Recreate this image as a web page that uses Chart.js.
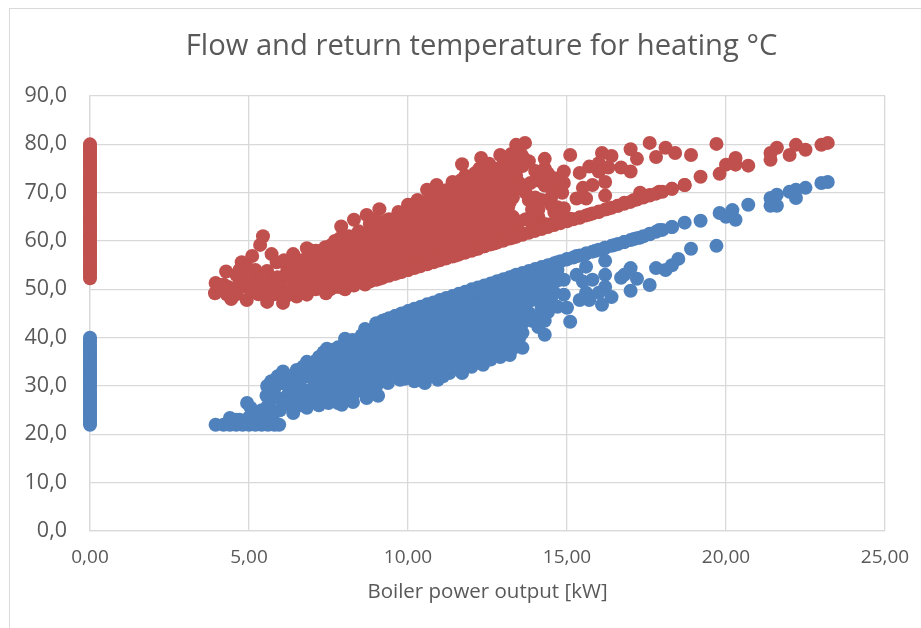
<!DOCTYPE html>
<html>
<head>
<meta charset="utf-8">
<title>Flow and return temperature for heating</title>
<script src="https://cdn.jsdelivr.net/npm/chart.js@4"></script>
<style>
  html, body { margin: 0; padding: 0; background: #fff; overflow: hidden; }
  #frame { position: absolute; left: 9px; top: 8px; width: 1000px; height: 1000px; border: 1.5px solid #d9d9d9; box-sizing: border-box; }
  canvas { position: absolute; left: 0; top: 0; }
</style>
</head>
<body>
<div id="frame"></div>
<canvas id="chart" width="921" height="628"></canvas>
<script>
// Values
const chartTitle = 'Flow and return temperature for heating °C';
const xAxisTitle = 'Boiler power output [kW]';
const xTickLabels = ['0,00', '5,00', '10,00', '15,00', '20,00', '25,00'];
const yTickLabels = ['0,0', '10,0', '20,0', '30,0', '40,0', '50,0', '60,0', '70,0', '80,0', '90,0'];

// boiler off, power 0
const flowIdleY = [52.3, 53, 53.5, 54, 54.5, 55, 55.5, 56, 56.5, 57, 57.5, 58, 58.5, 59, 59.5, 60, 60.5, 61, 61.5, 62, 62.5, 63, 63.5, 64, 64.5, 65, 65.5, 66, 66.5, 67, 67.5, 68, 68.5, 69, 69.5, 70, 70.5, 71, 71.5, 72, 72.5, 73, 73.5, 74, 74.5, 75, 75.5, 76, 76.5, 77, 77.5, 78, 78.5, 79, 79.5, 80];
const returnIdleY = [22, 22.5, 23, 23.5, 24, 24.5, 25, 25.5, 26, 26.5, 27, 27.5, 28, 28.5, 29, 29.5, 30, 30.5, 31, 31.5, 32, 32.5, 33, 33.5, 34, 34.5, 35, 35.5, 36, 36.5, 37, 37.5, 38, 38.5, 39, 39.5, 40];

// flow temperature, one line per rough column of points
const flowX = [
  3.93, 3.95, 4.28, 4.44, 4.6, 4.7, 4.77, 4.93, 4.9, 5.1, 5.1, 5.1, 5.35, 5.44, 5.3, 5.57, 5.57, 5.57, 5.7, 5.71, 5.87, 6.07, 6.07, 6.0, 6.2, 6.25, 6.39, 6.4, 6.4, 6.5, 6.55, 6.82, 6.82, 6.8, 6.8, 6.85,
  4.2, 4.5, 4.3, 4.8, 5.2, 5.8, 5.9,
  4.1, 4.35, 4.6, 4.6, 4.9, 5.0, 5.3, 5.4, 5.2, 5.7, 5.9, 6.15, 6.3, 6.3, 6.6, 6.65, 6.6, 6.65, 6.45, 6.15, 6.1, 4.95, 4.7, 5.0,
  7.1, 7.1, 7.1, 7.1, 7.1, 7.42, 7.4, 7.4, 7.4, 7.4, 7.4,
  7.7, 7.7, 7.7, 7.7, 7.7, 7.7, 8.02, 8.0, 8.0, 8.0, 8.0, 8.0, 7.9,
  8.3, 8.3, 8.3, 8.3, 8.3, 8.3, 8.3,
  8.65, 8.6, 8.6, 8.6, 8.6, 8.6, 8.7,
  9.1, 9.1, 9.1, 9.1, 9.1, 9.1, 9.1,
  9.4, 9.4, 9.4, 9.4, 9.4, 9.4, 9.4,
  9.7, 9.7, 9.7, 9.7, 9.7, 9.7, 9.7,
  10, 10, 10, 10, 10, 10, 10, 10,
  10.3, 10.3, 10.3, 10.3, 10.3, 10.3, 10.3, 10.3,
  10.6, 10.6, 10.6, 10.6, 10.6, 10.6, 10.6, 10.6,
  10.9, 10.9, 10.9, 10.9, 10.9, 10.9, 10.9, 10.9, 10.9,
  11.2, 11.2, 11.2, 11.2, 11.2, 11.2, 11.2, 11.2,
  11.5, 11.5, 11.5, 11.5, 11.5, 11.5, 11.5, 11.5, 11.4,
  11.8, 11.8, 11.8, 11.8, 11.8, 11.8, 11.8, 11.8, 11.8, 11.7,
  12.1, 12.1, 12.1, 12.1, 12.1, 12.1, 12.1, 12.1, 12.1,
  12.4, 12.4, 12.4, 12.4, 12.4, 12.4, 12.4, 12.4, 12.4, 12.3,
  12.7, 12.7, 12.7, 12.7, 12.7, 12.7, 12.7, 12.7, 12.7, 12.9,
  13, 13, 13, 13, 13, 13, 13, 13, 13,
  13.3, 13.3, 13.3, 13.3, 13.3, 13.3, 13.3, 13.3,
  13.4, 13.68, 13.5, 13.55, 13.6, 13.6, 13.4, 13.5, 13.8, 14, 14.4, 13.7, 14, 14.5, 14.9, 14.5, 14.7, 14.1, 14.3, 13.9, 13.5,
  13.25, 13.45, 13.4, 13.2, 13.7, 13.9, 14.1, 14.2, 14, 13.8, 14.3, 14.1, 13.85, 14.6, 14.9,
  14.8, 14.5, 14.85, 14.6, 14.3,
  14.3, 15.1, 14.9, 15.4, 15.7, 16.1, 16.4, 16, 16.3, 16, 16.2, 15.8, 15.5, 15.3, 15.6, 16.2, 16.7, 17, 17.2, 17, 17.6, 17.8, 18.1, 18.4, 18.9, 19.7, 19.2, 19.8, 20, 20.3, 20.3, 20.7,
  21.4, 21.4, 21.6, 22, 22.2, 22.5, 23, 23.2,
  13.6, 13.9, 14.2, 14.5, 14.7, 14.8, 15.1, 15.4, 15.7, 16, 16.3, 16.6, 16.8, 17.1, 17.3, 17.6, 17.9, 18.3, 18.7
];
const flowY = [
  49.2, 51.3, 53.7, 48, 50, 52, 55.6, 47.8, 50.5, 56.9, 52.5, 49.5, 59.2, 61, 49, 53.8, 50.5, 47.4, 51.5, 57.3, 55.6, 47.2, 50, 52, 54.5, 49, 57.3, 51.5, 53.5, 48.5, 55.5, 58.5, 48.9, 51, 53, 55.5,
  51, 50, 49, 53, 54, 49, 52.5,
  50, 50.5, 49, 53, 52.5, 51, 51, 52.5, 50, 49, 50.5, 48.5, 50, 52.5, 50, 52, 54, 56, 55, 53, 56, 54.5, 54, 53.5,
  50, 52, 54, 56, 58, 49.2, 51, 53, 55, 57, 58.7,
  50.5, 52.5, 54.5, 56.5, 58.5, 60, 50, 51.5, 53.5, 55.5, 57.5, 59.5, 63,
  50.8, 52.5, 54.5, 56.5, 58.5, 60.5, 64.4,
  51, 53, 55, 57, 59, 61, 65.4,
  52.2, 54, 56, 58, 60, 62, 66.6,
  53, 55, 57, 59, 61, 63, 64.5,
  53.5, 55.5, 57.5, 59.5, 61.5, 63.5, 66,
  54, 56, 58, 60, 62, 64, 66, 67.5,
  54.7, 56.5, 58.5, 60.5, 62.5, 64.5, 66.5, 68.5,
  55.3, 57, 59, 61, 63, 65, 67, 70.6,
  55.9, 58, 60, 62, 64, 66, 68, 70, 71.6,
  56.5, 58.5, 60.5, 62.5, 64.5, 66.5, 68.5, 70.5,
  57, 59, 61, 63, 65, 67, 69, 71, 72.2,
  57.7, 59.5, 61.5, 63.5, 65.5, 67.5, 69.5, 71.5, 73.5, 75.9,
  58.3, 60, 62, 64, 66, 68, 70, 72, 74,
  58.9, 60.5, 62.5, 64.5, 66.5, 68.5, 70.5, 72.5, 74.5, 77.2,
  59.5, 61, 63, 65, 67, 69, 71, 73, 75, 77.8,
  60.1, 62, 64, 66, 68, 70, 72, 74, 76,
  60.7, 62.5, 65, 69, 71, 73, 75, 77.5,
  79.9, 80.3, 79, 78, 77.5, 75.5, 73.5, 72, 76.5, 74.5, 74, 70, 67.5, 71, 72, 69, 67, 65, 63.5, 66.5, 64,
  78, 76.5, 71, 68, 64.5, 64, 66.5, 68.5, 69, 68.5, 71.5, 72.5, 72, 66, 66.8,
  71, 67.5, 70, 73, 75,
  77, 77.8, 74.4, 74.1, 75.4, 78.2, 77.6, 76.1, 75.2, 74.4, 72.2, 71.6, 71, 68.8, 68.8, 69.4, 75.2, 74.4, 77, 79, 80.3, 77.4, 79.3, 78.2, 77.8, 80.1, 73.3, 73.9, 75.8, 77.2, 75.8, 75.6,
  78.2, 76.8, 79.3, 77.8, 79.9, 78.9, 79.9, 80.3,
  61.5, 62.3, 63, 63.5, 65.4, 64, 64.6, 64.8, 65.5, 66, 66.7, 67.3, 67.9, 68.5, 70, 69.5, 70.2, 70.8, 71.6
];

// flow points between the columns above
const flowFillX = [
  6.95, 6.95, 6.95, 6.95, 6.95,
  7.25, 7.25, 7.25, 7.25, 7.25,
  7.55, 7.55, 7.55, 7.55, 7.55, 7.55,
  7.85, 7.85, 7.85, 7.85, 7.85, 7.85,
  8.15, 8.15, 8.15, 8.15, 8.15, 8.15,
  8.45, 8.45, 8.45, 8.45, 8.45, 8.45,
  8.8, 8.8, 8.8, 8.8, 8.8, 8.8, 8.8,
  8.95, 8.95, 8.95, 8.95, 8.95, 8.95, 8.95,
  9.25, 9.25, 9.25, 9.25, 9.25, 9.25,
  9.55, 9.55, 9.55, 9.55, 9.55, 9.55,
  9.85, 9.85, 9.85, 9.85, 9.85, 9.85,
  10.15, 10.15, 10.15, 10.15, 10.15, 10.15, 10.15,
  10.45, 10.45, 10.45, 10.45, 10.45, 10.45, 10.45,
  10.75, 10.75, 10.75, 10.75, 10.75, 10.75, 10.75,
  11.05, 11.05, 11.05, 11.05, 11.05, 11.05, 11.05,
  11.35, 11.35, 11.35, 11.35, 11.35, 11.35, 11.35,
  11.65, 11.65, 11.65, 11.65, 11.65, 11.65, 11.65, 11.65,
  11.95, 11.95, 11.95, 11.95, 11.95, 11.95, 11.95, 11.95,
  12.25, 12.25, 12.25, 12.25, 12.25, 12.25, 12.25, 12.25, 12.25,
  12.55, 12.55, 12.55, 12.55, 12.55, 12.55, 12.55, 12.55, 12.55,
  12.85, 12.85, 12.85, 12.85, 12.85, 12.85, 12.85, 12.85,
  13.15, 13.15, 13.15, 13.15, 13.15, 13.15, 13.15
];
const flowFillY = [
  50, 52, 54, 56, 58,
  50.5, 52.5, 54.5, 56.5, 58,
  50, 52, 54, 56, 58, 59,
  50.5, 52.5, 54.5, 56.5, 58.5, 60.5,
  51, 53, 55, 57, 59, 61,
  52, 54, 56, 58, 60, 62,
  52, 54, 56, 58, 60, 62, 63.5,
  53, 55, 57, 59, 61, 63, 64.5,
  54, 56, 58, 60, 62, 64,
  54.5, 56.5, 58.5, 60.5, 62.5, 64.5,
  55, 57, 59, 61, 63, 65,
  55.5, 57.5, 59.5, 61.5, 63.5, 65.5, 67.5,
  56, 58, 60, 62, 64, 66, 68,
  57, 59, 61, 63, 65, 67, 69,
  57.5, 59.5, 61.5, 63.5, 65.5, 67.5, 69.5,
  58, 60, 62, 64, 66, 68, 70,
  58.5, 60.5, 62.5, 64.5, 66.5, 68.5, 70.5, 72.5,
  59, 61, 63, 65, 67, 69, 71, 73,
  59.5, 61.5, 63.5, 65.5, 67.5, 69.5, 71.5, 73.5, 75,
  60, 62, 64, 66, 68, 70, 72, 74, 76,
  61, 63, 65, 67, 69, 71, 73, 75,
  61.5, 63.5, 67, 70, 72, 74, 76
];

// lower edge of the flow cloud
const flowEdgeX = [8.8, 9, 9.2, 9.4, 9.6, 9.8, 10, 10.2, 10.4, 10.6, 10.8, 11, 11.2, 11.4, 11.6, 11.8, 12, 12.2, 12.4, 12.6, 12.8, 13, 13.2, 13.4, 13.6, 13.8, 14, 14.2, 14.4, 14.6, 14.8, 15, 15.2, 15.4, 15.6, 15.8, 16, 16.2, 16.4, 16.6, 16.8, 17, 17.2, 17.4, 17.6, 17.8, 18, 18.3, 18.7];
const flowEdgeY = [51.6, 52, 52.4, 52.8, 53.2, 53.6, 54, 54.4, 54.8, 55.2, 55.6, 56, 56.4, 56.8, 57.2, 57.6, 58, 58.4, 58.9, 59.3, 59.7, 60.1, 60.5, 60.9, 61.3, 61.7, 62.1, 62.5, 62.9, 63.3, 63.7, 64.1, 64.5, 64.9, 65.3, 65.7, 66.1, 66.5, 66.9, 67.3, 67.7, 68.1, 68.6, 69, 69.4, 69.8, 70.2, 70.8, 71.6];

// return temperature
const returnX = [
  3.95, 4.2, 4.4, 4.6, 4.8, 5, 5.2, 5.4, 5.6, 5.8, 5.95, 4.4, 4.7, 4.94, 5.05, 5.1, 5.3, 5.5,
  5.57, 5.55, 5.6, 5.8, 5.9, 5.97, 6.07, 6.1, 6.2, 6.39, 6.5, 6.45, 6.5, 6.4, 6.6, 6.82, 6.8, 6.85, 6.82,
  5.7, 5.9, 6.2, 6.3, 6, 6.7, 6.6, 6.7, 6.6, 6.3, 6.1, 5.8, 5.6, 5.4, 5.3, 5, 4.6, 5.75,
  6.9, 7.2, 7.2, 7.2, 7.2, 7.2, 7.2, 7.45, 7.5, 7.5, 7.5, 7.5, 7.5,
  7.8, 7.8, 7.8, 7.8, 7.8, 7.8, 7.8, 7.92, 8.02, 8.1, 8.1, 8.1, 8.1, 8.1,
  8.27, 8.4, 8.4, 8.4, 8.4, 8.4, 8.4,
  8.65, 8.7, 8.7, 8.7, 8.7, 8.7, 8.7, 8.7,
  9.06, 9, 9, 9, 9, 9, 9, 9,
  9.37, 9.3, 9.3, 9.3, 9.3, 9.3, 9.3, 9.3,
  9.75, 9.6, 9.6, 9.6, 9.6, 9.6, 9.6, 9.6,
  9.9, 9.9, 9.9, 9.9, 9.9, 9.9, 9.9, 9.9,
  10.2, 10.2, 10.2, 10.2, 10.2, 10.2, 10.2, 10.2,
  10.53, 10.5, 10.5, 10.5, 10.5, 10.5, 10.5, 10.5, 10.5,
  10.94, 10.8, 10.8, 10.8, 10.8, 10.8, 10.8, 10.8, 10.8,
  11.1, 11.1, 11.1, 11.1, 11.1, 11.1, 11.1, 11.1, 11.1,
  11.3, 11.4, 11.4, 11.4, 11.4, 11.4, 11.4, 11.4, 11.4,
  11.7, 11.7, 11.7, 11.7, 11.7, 11.7, 11.7, 11.7, 11.7,
  12, 12, 12, 12, 12, 12, 12, 12, 12,
  12.36, 12.3, 12.3, 12.3, 12.3, 12.3, 12.3, 12.3, 12.3,
  12.6, 12.6, 12.6, 12.6, 12.6, 12.6, 12.6, 12.6, 12.6,
  12.9, 12.9, 12.9, 12.9, 12.9, 12.9, 12.9, 12.9, 12.9,
  13.2, 13.2, 13.2, 13.2, 13.2, 13.2, 13.2, 13.2,
  13.6, 13.5, 13.5, 13.5, 13.5, 13.5,
  14.3, 13.8, 14.1, 14.4, 14.7, 15, 15.3, 15.6, 15.9, 16.2, 16.5, 16.8, 17.1, 17.3, 17.6, 17.9, 18.3, 18.7, 19.2, 19.8, 20.2, 20.7, 20.3, 20,
  21.4, 21.4, 21.6, 21.6, 22, 22.2, 22.2, 22.5, 23, 23.2,
  19.7, 18.9, 18.5, 18.3, 18.1, 17.8, 17.6, 17, 17.2, 17, 16.8, 16.7, 16.2, 16.2, 16.2, 16.4, 16.1, 15.7, 15.4, 15.6, 16, 15.8, 15.5, 15.3, 15.6, 14.7, 14.4, 14.9, 15, 15.1, 14.4, 14.6, 14.2, 13.9, 13.8, 13.4, 13.6, 14.1, 13.2,
  14, 14.2, 13.9, 13.7, 14.5,
  13.7, 13.9, 14.1, 14.3, 14.5, 14.2, 13.9, 13.6, 14.05, 14.7, 14.9, 14.3, 13.5, 13.8, 13.6,
  14.3, 14.5, 14.7, 14.2, 13.7
];
const returnY = [
  22, 22, 22, 22, 22, 22, 22, 22, 22, 22, 22, 23.4, 23, 26.5, 25.5, 24, 23.5, 23.5,
  30, 28, 26, 29.5, 27.5, 25, 33, 30.5, 28, 24.4, 33.3, 31, 29, 27, 26, 35, 32, 29, 25.5,
  31, 32, 32, 30, 31, 34, 31, 28, 30, 26, 26.5, 24.5, 24.5, 25, 24.5, 23.5, 23, 27.5,
  27.5, 26, 28, 30, 32, 34, 36, 37.7, 26.5, 28.5, 30.5, 32.5, 34.5,
  26.5, 28.5, 30.5, 32.5, 34.5, 36.5, 38, 26.1, 39.8, 27.5, 29.5, 31.5, 33.5, 35.5,
  26.7, 29, 31, 33, 35, 37, 39.5,
  41.8, 27.5, 29.5, 31.5, 33.5, 35.5, 37.5, 39.5,
  28, 30, 32, 34, 36, 38, 40, 42,
  30.6, 31.5, 33.5, 35.5, 37.5, 39.5, 41.5, 43.7,
  31.3, 33, 35, 37, 39, 41, 43, 44.5,
  31.5, 33, 35, 37, 39, 41, 43, 45,
  31, 33, 35, 37, 39, 41, 43, 45.5,
  30.6, 32.5, 34.5, 36.5, 38.5, 40.5, 42.5, 44.5, 46.3,
  31.3, 33, 35, 37, 39, 41, 43, 45, 47,
  32, 34, 36, 38, 40, 42, 44, 46, 47.6,
  32.7, 35, 37, 39, 41, 43, 45, 47, 48.3,
  32.7, 35, 37, 39, 41, 43, 45, 47, 49,
  34, 36, 38, 40, 42, 44, 46, 48, 49.7,
  34.4, 36.5, 38.5, 40.5, 42.5, 44.5, 46.5, 48.5, 50.3,
  35.5, 37.5, 39.5, 41.5, 43.5, 45.5, 47.5, 49.5, 51,
  36, 38, 40, 42, 44, 46, 48, 50, 51.7,
  36.4, 39, 41, 43, 45, 47.5, 50, 52.4,
  37.9, 40, 44, 48, 50.5, 53,
  40.6, 53.6, 54.2, 54.9, 55.6, 56.3, 56.9, 57.4, 58, 58.6, 59.2, 59.8, 60.4, 60.7, 61.5, 62.3, 62.9, 63.8, 64.2, 65.8, 66.4, 67.5, 64.4, 65,
  68.9, 67.3, 69.6, 67.3, 70.2, 70.6, 68.9, 71, 72, 72.2,
  59, 58.4, 56.3, 55, 54, 54.4, 50.9, 49.7, 52.2, 54.4, 53, 52.4, 55.9, 53, 50.5, 48.4, 46.8, 47.8, 47.8, 49.3, 49.3, 52, 51.6, 53, 54.7, 54, 52.6, 48.9, 46.2, 43.3, 45.3, 49.3, 50.5, 47.8, 45.1, 46.4, 43, 42.2, 42.2,
  52.8, 48.5, 50.5, 51.5, 51,
  47, 49.5, 52, 50.5, 47.5, 46, 43.5, 41, 44, 51.8, 52, 43.5, 41.5, 51.5, 49.5,
  49.9, 48.5, 46.4, 44.3, 45.8
];

// return points between the columns above
const returnFillX = [
  7.05, 7.05, 7.05, 7.05, 7.05,
  7.35, 7.35, 7.35, 7.35, 7.35, 7.35,
  7.65, 7.65, 7.65, 7.65, 7.65, 7.65,
  7.95, 7.95, 7.95, 7.95, 7.95, 7.95,
  8.25, 8.25, 8.25, 8.25, 8.25, 8.25, 8.25,
  8.55, 8.55, 8.55, 8.55, 8.55, 8.55, 8.55,
  8.85, 8.85, 8.85, 8.85, 8.85, 8.85, 8.85,
  9.15, 9.15, 9.15, 9.15, 9.15, 9.15, 9.15,
  9.45, 9.45, 9.45, 9.45, 9.45, 9.45, 9.45,
  9.75, 9.75, 9.75, 9.75, 9.75, 9.75, 9.75,
  10.05, 10.05, 10.05, 10.05, 10.05, 10.05, 10.05, 10.05,
  10.35, 10.35, 10.35, 10.35, 10.35, 10.35, 10.35, 10.35,
  10.65, 10.65, 10.65, 10.65, 10.65, 10.65, 10.65, 10.65,
  10.95, 10.95, 10.95, 10.95, 10.95, 10.95, 10.95, 10.95,
  11.25, 11.25, 11.25, 11.25, 11.25, 11.25, 11.25, 11.25,
  11.55, 11.55, 11.55, 11.55, 11.55, 11.55, 11.55, 11.55,
  11.85, 11.85, 11.85, 11.85, 11.85, 11.85, 11.85, 11.85,
  12.15, 12.15, 12.15, 12.15, 12.15, 12.15, 12.15, 12.15,
  12.45, 12.45, 12.45, 12.45, 12.45, 12.45, 12.45, 12.45,
  12.75, 12.75, 12.75, 12.75, 12.75, 12.75, 12.75, 12.75,
  13.05, 13.05, 13.05, 13.05, 13.05, 13.05, 13.05, 13.05,
  13.35, 13.35, 13.35, 13.35, 13.35, 13.35, 13.35
];
const returnFillY = [
  27, 29, 31, 33, 35,
  27, 29, 31, 33, 35, 37,
  27.5, 29.5, 31.5, 33.5, 35.5, 37.5,
  28, 30, 32, 34, 36, 38,
  28, 30, 32, 34, 36, 38, 39.5,
  29, 31, 33, 35, 37, 39, 40.5,
  29, 31, 33, 35, 37, 39, 41,
  31, 33, 35, 37, 39, 41, 43,
  32, 34, 36, 38, 40, 42, 43.8,
  33, 35, 37, 39, 41, 43, 44.8,
  32, 34, 36, 38, 40, 42, 44, 45.5,
  32, 34, 36, 38, 40, 42, 44, 46,
  32, 34, 36, 38, 40, 42, 44, 46.5,
  33, 35, 37, 39, 41, 43, 45, 47,
  34, 36, 38, 40, 42, 44, 46, 48,
  34, 36, 38, 40, 42, 44, 46, 48.5,
  35, 37, 39, 41, 43, 45, 47, 49.3,
  35, 37, 39, 41, 43, 45, 47, 49.8,
  36, 38, 40, 42, 44, 46, 48, 50.5,
  37, 39, 41, 43, 45, 47, 49, 51,
  38, 40, 42, 44, 46, 48, 50, 52,
  38, 40, 42, 46, 49, 51, 52.8
];

// upper edge of the return cloud
const returnEdgeX = [9, 9.2, 9.4, 9.6, 9.8, 10, 10.2, 10.4, 10.6, 10.8, 11, 11.2, 11.4, 11.6, 11.8, 12, 12.2, 12.4, 12.6, 12.8, 13, 13.2, 13.4, 13.6, 13.8, 14, 14.2, 14.4, 14.6, 14.8, 15, 15.2, 15.4, 15.6, 15.8, 16, 16.2, 16.4, 16.6, 16.8, 17, 17.2, 17.4, 17.6, 17.8, 18, 18.3];
const returnEdgeY = [43, 43.5, 44, 44.5, 45, 45.5, 46, 46.4, 46.9, 47.3, 47.8, 48.2, 48.6, 49.1, 49.5, 50, 50.4, 50.8, 51.2, 51.7, 52.1, 52.5, 53, 53.4, 53.8, 54.2, 54.6, 55, 55.4, 55.8, 56.2, 56.6, 57, 57.4, 57.8, 58.2, 58.6, 59, 59.4, 59.8, 60.2, 60.6, 61, 61.4, 61.9, 62.3, 62.9];

function toPoints(xs, ys) {
  return xs.map((x, i) => ({ x: x, y: ys[i] }));
}

const flowPoints = flowIdleY.map(y => ({ x: 0, y: y }))
  .concat(toPoints(flowX, flowY), toPoints(flowFillX, flowFillY), toPoints(flowEdgeX, flowEdgeY));
const returnPoints = returnIdleY.map(y => ({ x: 0, y: y }))
  .concat(toPoints(returnX, returnY), toPoints(returnFillX, returnFillY), toPoints(returnEdgeX, returnEdgeY));

const textColor = '#595959';
const gridColor = '#d9d9d9';
const fontName = '"Open Sans", sans-serif';

// The title sits right of the canvas centre, so narrow its box from the left
const shiftTitle = {
  id: 'shiftTitle',
  afterLayout(chart) {
    chart.titleBlock.left = 78;
  }
};

new Chart(document.getElementById('chart'), {
  type: 'scatter',
  data: {
    datasets: [
      { label: 'Flow', data: flowPoints, backgroundColor: '#c0504d', borderWidth: 0, pointRadius: 7, clip: false },
      { label: 'Return', data: returnPoints, backgroundColor: '#4f81bd', borderWidth: 0, pointRadius: 7, clip: false }
    ]
  },
  plugins: [shiftTitle],
  options: {
    responsive: false,
    animation: false,
    layout: { padding: { right: 36 } },
    plugins: {
      legend: { display: false },
      tooltip: { enabled: false },
      title: {
        display: true,
        text: chartTitle,
        color: textColor,
        font: { family: fontName, size: 29.2, weight: 'normal', lineHeight: 1.2 },
        padding: { top: 29.5, bottom: 31.5 }
      }
    },
    scales: {
      x: {
        type: 'linear',
        min: 0,
        max: 25,
        afterBuildTicks: scale => { scale.ticks = xTickLabels.map((_, i) => ({ value: i * 5 })); },
        afterFit: scale => { scale.height = 97; scale.paddingLeft = 0; scale.paddingRight = 0; },
        grid: { color: gridColor, lineWidth: 1.3, drawTicks: false },
        border: { color: gridColor, width: 1.3 },
        ticks: {
          color: textColor,
          font: { family: fontName, size: 19 },
          padding: 15,
          maxRotation: 0,
          callback: (value, i) => xTickLabels[i]
        },
        title: {
          display: true,
          text: xAxisTitle,
          color: textColor,
          font: { family: fontName, size: 20.5 },
          padding: { top: 0, bottom: 24 }
        }
      },
      y: {
        min: 0,
        max: 90,
        afterBuildTicks: scale => { scale.ticks = yTickLabels.map((_, i) => ({ value: i * 10 })); },
        afterFit: scale => { scale.width = 90; },
        grid: { color: gridColor, lineWidth: 1.3, drawTicks: false },
        border: { color: gridColor, width: 1.3 },
        ticks: {
          color: textColor,
          font: { family: fontName, size: 21.5 },
          padding: 23,
          callback: (value, i) => yTickLabels[i]
        }
      }
    }
  }
});
</script>
</body>
</html>
